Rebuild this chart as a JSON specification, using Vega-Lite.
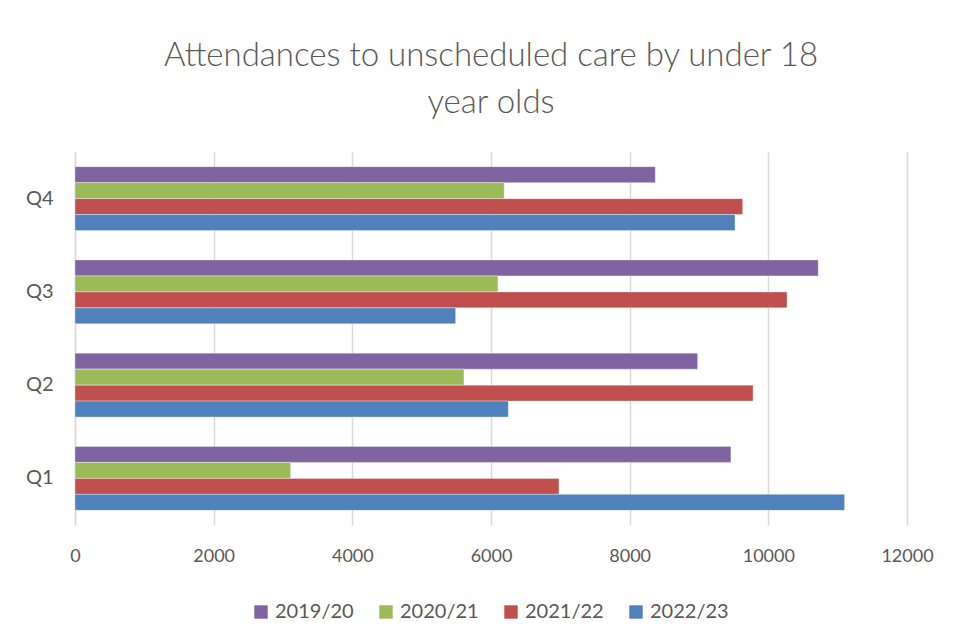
{
  "$schema": "https://vega.github.io/schema/vega-lite/v6.json",
  "width": 832,
  "height": 373,
  "autosize": {"type": "none"},
  "padding": {"left": 75, "top": 152, "right": 50, "bottom": 119},
  "background": "white",
  "title": {
    "text": ["Attendances to unscheduled care by under 18", "year olds"],
    "font": "Lato",
    "fontSize": 33,
    "fontWeight": 300,
    "color": "#595959",
    "lineHeight": 47,
    "anchor": "middle",
    "offset": 32
  },
  "data": {
    "values": [
      {"quarter": "Q1", "series": "2019/20", "value": 9460},
      {"quarter": "Q1", "series": "2020/21", "value": 3110},
      {"quarter": "Q1", "series": "2021/22", "value": 6980},
      {"quarter": "Q1", "series": "2022/23", "value": 11100},
      {"quarter": "Q2", "series": "2019/20", "value": 8980},
      {"quarter": "Q2", "series": "2020/21", "value": 5610},
      {"quarter": "Q2", "series": "2021/22", "value": 9780},
      {"quarter": "Q2", "series": "2022/23", "value": 6250},
      {"quarter": "Q3", "series": "2019/20", "value": 10720},
      {"quarter": "Q3", "series": "2020/21", "value": 6100},
      {"quarter": "Q3", "series": "2021/22", "value": 10270},
      {"quarter": "Q3", "series": "2022/23", "value": 5490},
      {"quarter": "Q4", "series": "2019/20", "value": 8370},
      {"quarter": "Q4", "series": "2020/21", "value": 6190},
      {"quarter": "Q4", "series": "2021/22", "value": 9630},
      {"quarter": "Q4", "series": "2022/23", "value": 9520}
    ]
  },
  "mark": {"type": "bar", "stroke": "#ffffff", "strokeWidth": 0.6, "strokeOpacity": 0.6},
  "encoding": {
    "y": {
      "field": "quarter",
      "type": "nominal",
      "sort": ["Q4", "Q3", "Q2", "Q1"],
      "scale": {"paddingInner": 0.314, "paddingOuter": 0.157},
      "axis": {
        "title": null,
        "domain": true,
        "domainColor": "#d9d9d9",
        "domainWidth": 1.5,
        "ticks": false,
        "labelFont": "Lato",
        "labelFontSize": 20,
        "labelColor": "#595959",
        "labelPadding": 22
      }
    },
    "yOffset": {
      "field": "series",
      "type": "nominal",
      "sort": ["2019/20", "2020/21", "2021/22", "2022/23"]
    },
    "x": {
      "field": "value",
      "type": "quantitative",
      "scale": {"domain": [0, 12000], "nice": false},
      "axis": {
        "title": null,
        "values": [0, 2000, 4000, 6000, 8000, 10000, 12000],
        "format": "d",
        "domain": false,
        "ticks": false,
        "grid": true,
        "gridColor": "#d9d9d9",
        "gridWidth": 1.5,
        "labelFlush": false,
        "labelOverlap": false,
        "labelFont": "Lato",
        "labelFontSize": 18,
        "labelColor": "#595959",
        "labelPadding": 22
      }
    },
    "color": {
      "field": "series",
      "type": "nominal",
      "scale": {
        "domain": ["2019/20", "2020/21", "2021/22", "2022/23"],
        "range": ["#8064A2", "#9BBB59", "#C0504D", "#4F81BD"]
      },
      "legend": {
        "title": null,
        "orient": "none",
        "direction": "horizontal",
        "legendX": 176,
        "legendY": 450,
        "symbolType": "square",
        "symbolSize": 180,
        "symbolStrokeWidth": 0,
        "labelFont": "Lato",
        "labelFontSize": 20,
        "labelColor": "#595959",
        "labelOffset": 4,
        "columnPadding": 22
      }
    }
  },
  "config": {
    "view": {"stroke": null}
  }
}
